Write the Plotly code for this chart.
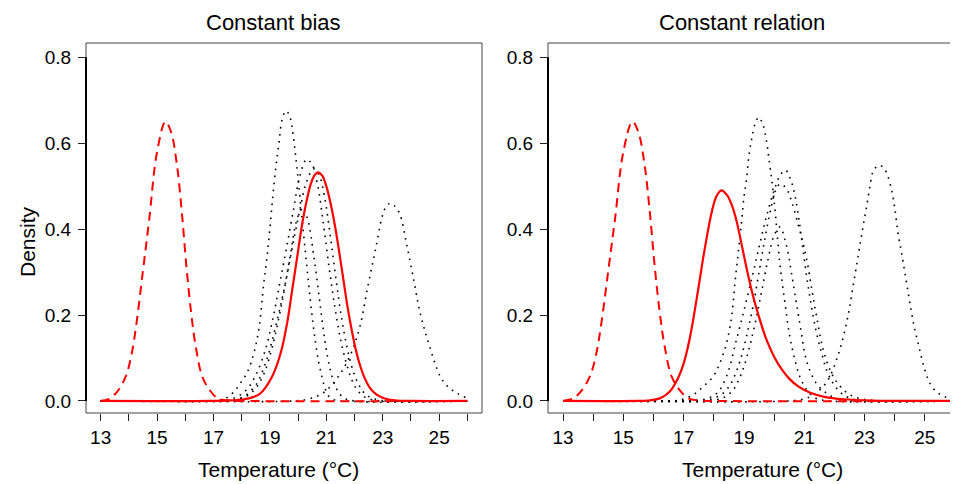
import plotly.graph_objects as go

# ---------------- data ----------------
x_ticks = list(range(13, 27))
x_tick_labels = [str(v) if v % 2 == 1 else "" for v in x_ticks]
y_ticks = [0.0, 0.2, 0.4, 0.6, 0.8]
y_tick_labels = ["0.0", "0.2", "0.4", "0.6", "0.8"]

panel_titles = ["Constant bias", "Constant relation"]
x_title = "Temperature (\u00b0C)"
y_title = "Density"

# observed distribution (red dashed), same in both panels
obs_x = [13.0, 13.3, 13.59, 13.89, 14.1, 14.27, 14.49, 14.72, 15.0, 15.3, 15.5, 15.71,
         15.88, 16.04, 16.21, 16.37, 16.6, 16.87, 17.15, 17.5, 18.0, 26.0]
obs_y = [0.0, 0.005, 0.022, 0.057, 0.11, 0.181, 0.298, 0.422, 0.58, 0.65, 0.625, 0.546,
         0.437, 0.313, 0.204, 0.127, 0.057, 0.025, 0.006, 0.001, 0.0, 0.0]

# ---- left panel: constant bias ----
lp_x = [13.0, 17.0, 17.5, 18.08, 18.4, 18.67, 19.08, 19.38, 19.61, 19.79, 19.97, 20.14,
        20.3, 20.45, 20.58, 20.7, 20.85, 21.0, 21.15, 21.3, 21.45, 21.6, 21.75, 21.9, 22.05,
        22.2, 22.35, 22.55, 22.8, 23.1, 23.5, 24.0, 26.0]
lp_y = [0.0, 0.0, 0.001, 0.004, 0.009, 0.018, 0.057, 0.111, 0.181, 0.258, 0.336, 0.41,
        0.465, 0.505, 0.525, 0.532, 0.525, 0.5, 0.46, 0.41, 0.35, 0.285, 0.22, 0.165, 0.118,
        0.082, 0.055, 0.03, 0.014, 0.005, 0.001, 0.0, 0.0]

la_x = [13.0, 16.8, 17.2, 17.45, 17.72, 17.96, 18.2, 18.43, 18.61, 18.78, 18.9, 18.99,
        19.09, 19.21, 19.32, 19.44, 19.57, 19.69, 19.8, 19.93, 20.05, 20.15, 20.26, 20.38,
        20.5, 20.62, 20.73, 20.85, 20.95, 21.1, 21.3, 21.5, 26.0]
la_y = [0.0, 0.0, 0.002, 0.007, 0.021, 0.042, 0.067, 0.111, 0.168, 0.272, 0.336, 0.395,
        0.467, 0.543, 0.6, 0.657, 0.675, 0.665, 0.63, 0.56, 0.485, 0.417, 0.345, 0.268,
        0.195, 0.135, 0.09, 0.055, 0.03, 0.01, 0.002, 0.0, 0.0]

lb_x = [13.0, 17.0, 17.3, 17.6, 17.9, 18.2, 18.5, 18.84, 19.1, 19.35, 19.6, 19.85, 20.05,
        20.3, 20.5, 20.7, 20.9, 21.1, 21.3, 21.5, 21.7, 21.9, 22.1, 22.4, 22.8, 23.2, 26.0]
lb_y = [0.0, 0.0, 0.001, 0.004, 0.012, 0.028, 0.06, 0.119, 0.19, 0.274, 0.36, 0.45, 0.52,
        0.562, 0.55, 0.5, 0.41, 0.31, 0.22, 0.145, 0.09, 0.05, 0.025, 0.008, 0.001, 0.0, 0.0]

lc_x = [13.0, 17.3, 17.6, 17.9, 18.2, 18.55, 18.8, 19.02, 19.3, 19.55, 19.8, 20.05, 20.3,
        20.55, 20.75, 20.95, 21.15, 21.35, 21.55, 21.75, 21.95, 22.15, 22.4, 22.8, 23.2, 26.0]
lc_y = [0.0, 0.0, 0.001, 0.005, 0.016, 0.042, 0.08, 0.125, 0.2, 0.274, 0.36, 0.44, 0.51,
        0.54, 0.525, 0.47, 0.38, 0.28, 0.19, 0.12, 0.07, 0.038, 0.015, 0.003, 0.0, 0.0]

ld_x = [13.0, 17.4, 17.8, 18.2, 18.5, 18.8, 19.1, 19.4, 19.7, 19.95, 20.15, 20.35, 20.55,
        20.75, 20.95, 21.15, 21.35, 21.6, 22.0, 26.0]
ld_y = [0.0, 0.0, 0.002, 0.012, 0.03, 0.065, 0.13, 0.22, 0.33, 0.42, 0.45, 0.42, 0.34,
        0.24, 0.14, 0.07, 0.03, 0.008, 0.0, 0.0]

le_x = [13.0, 19.8, 20.32, 20.7, 21.03, 21.5, 21.88, 22.19, 22.47, 22.74, 22.98, 23.1,
        23.25, 23.4, 23.6, 23.84, 24.1, 24.33, 24.63, 25.04, 25.3, 25.63, 26.0]
le_y = [0.0, 0.0, 0.004, 0.012, 0.026, 0.064, 0.111, 0.173, 0.266, 0.351, 0.429, 0.45,
        0.46, 0.455, 0.436, 0.367, 0.281, 0.204, 0.134, 0.057, 0.034, 0.018, 0.006]

# ---- right panel: constant relation ----
rp_x = [13.0, 15.5, 15.8, 16.21, 16.54, 16.82, 16.99, 17.2, 17.43, 17.64, 17.78, 17.92,
        18.08, 18.25, 18.45, 18.6, 18.75, 18.92, 19.1, 19.3, 19.5, 19.75, 20.0, 20.25, 20.5,
        20.8, 21.2, 21.7, 22.3, 23.3, 24.5, 26.0]
rp_y = [0.0, 0.0, 0.001, 0.006, 0.022, 0.054, 0.085, 0.145, 0.237, 0.33, 0.386, 0.436,
        0.475, 0.49, 0.478, 0.455, 0.42, 0.365, 0.305, 0.245, 0.195, 0.142, 0.103, 0.074,
        0.052, 0.034, 0.019, 0.009, 0.004, 0.001, 0.0, 0.0]

ra_x = [13.0, 16.5, 16.87, 17.31, 17.64, 17.98, 18.2, 18.42, 18.59, 18.7, 18.81, 18.92,
        19.0, 19.08, 19.16, 19.25, 19.37, 19.49, 19.63, 19.75, 19.82, 19.93, 20.05, 20.19,
        20.36, 20.52, 20.69, 20.85, 21.08, 21.3, 21.6, 26.0]
ra_y = [0.0, 0.0, 0.002, 0.014, 0.033, 0.057, 0.088, 0.134, 0.196, 0.274, 0.345, 0.416,
        0.475, 0.513, 0.568, 0.607, 0.645, 0.66, 0.643, 0.604, 0.568, 0.51, 0.43, 0.321,
        0.228, 0.15, 0.096, 0.057, 0.026, 0.01, 0.002, 0.0]

rb_x = [13.0, 16.8, 17.2, 17.7, 18.1, 18.42, 18.75, 19.03, 19.3, 19.53, 19.75, 20.0, 20.2,
        20.38, 20.55, 20.7, 20.85, 20.96, 21.1, 21.3, 21.45, 21.6, 21.75, 21.96, 22.2, 22.5,
        22.9, 23.4, 26.0]
rb_y = [0.0, 0.0, 0.001, 0.004, 0.018, 0.057, 0.142, 0.219, 0.297, 0.367, 0.43, 0.49, 0.525,
        0.537, 0.515, 0.475, 0.41, 0.352, 0.28, 0.196, 0.145, 0.105, 0.07, 0.041, 0.02, 0.007,
        0.001, 0.0, 0.0]

rc_x = [13.0, 17.1, 17.5, 17.9, 18.25, 18.5, 18.7, 18.9, 19.1, 19.3, 19.5, 19.7, 19.9, 20.05,
        20.2, 20.4, 20.6, 20.8, 20.95, 21.08, 21.25, 21.41, 21.63, 21.9, 22.18, 22.5, 22.9,
        23.4, 24.0, 26.0]
rc_y = [0.0, 0.0, 0.001, 0.004, 0.015, 0.033, 0.06, 0.1, 0.155, 0.22, 0.3, 0.38, 0.45, 0.49,
        0.505, 0.495, 0.46, 0.41, 0.37, 0.33, 0.26, 0.196, 0.119, 0.065, 0.035, 0.015, 0.005,
        0.001, 0.0, 0.0]

rd_x = [13.0, 17.5, 17.9, 18.3, 18.6, 18.8, 19.0, 19.2, 19.4, 19.6, 19.8, 20.0, 20.2, 20.36,
        20.47, 20.58, 20.69, 20.8, 20.91, 21.02, 21.18, 21.4, 21.74, 22.1, 22.6, 26.0]
rd_y = [0.0, 0.0, 0.001, 0.007, 0.022, 0.045, 0.08, 0.13, 0.19, 0.26, 0.33, 0.385, 0.405,
        0.375, 0.343, 0.296, 0.249, 0.202, 0.156, 0.109, 0.072, 0.041, 0.018, 0.005, 0.0, 0.0]

re_x = [13.0, 20.5, 20.96, 21.3, 21.63, 21.85, 22.07, 22.24, 22.4, 22.51, 22.62, 22.73, 22.84,
        22.95, 23.07, 23.18, 23.29, 23.47, 23.6, 23.73, 23.9, 24.0, 24.11, 24.23, 24.34, 24.45,
        24.56, 24.67, 24.83, 25.0, 25.17, 25.39, 25.66, 25.94, 26.0]
re_y = [0.0, 0.0, 0.004, 0.014, 0.034, 0.057, 0.096, 0.134, 0.181, 0.22, 0.267, 0.313, 0.36,
        0.406, 0.453, 0.5, 0.535, 0.548, 0.545, 0.531, 0.49, 0.45, 0.391, 0.344, 0.298, 0.251,
        0.205, 0.166, 0.119, 0.072, 0.041, 0.021, 0.01, 0.004, 0.003]

# ---------------- styling ----------------
FONT = "Liberation Sans, Arial, Helvetica, sans-serif"
dot_line = dict(color="black", width=1.6, dash="1.6px,5.4px", shape="spline", smoothing=1.0)
obs_line = dict(color="#ff0000", width=2, dash="9px,6px", shape="spline", smoothing=1.0)
proj_line = dict(color="#ff0000", width=2.2, shape="spline", smoothing=1.0)

fig = go.Figure()

panels = [
    ("x", "y", [(la_x, la_y), (lb_x, lb_y), (lc_x, lc_y), (ld_x, ld_y), (le_x, le_y)], (lp_x, lp_y)),
    ("x2", "y2", [(ra_x, ra_y), (rb_x, rb_y), (rc_x, rc_y), (rd_x, rd_y), (re_x, re_y)], (rp_x, rp_y)),
]
for xa, ya, models, proj in panels:
    for mx, my in models:
        fig.add_trace(go.Scatter(x=mx, y=my, mode="lines", line=dot_line, xaxis=xa, yaxis=ya,
                                 hoverinfo="skip"))
    fig.add_trace(go.Scatter(x=obs_x, y=obs_y, mode="lines", line=obs_line, xaxis=xa, yaxis=ya,
                             hoverinfo="skip"))
    fig.add_trace(go.Scatter(x=proj[0], y=proj[1], mode="lines", line=proj_line, xaxis=xa,
                             yaxis=ya, hoverinfo="skip"))

# the page adds an 8 px body margin, so page pixel p -> figure pixel p - 8
OFF = 8
W, H = 958 - OFF, 484 - OFF


def fx(p):
    return (p - OFF) / W


def fy(p):
    return 1 - (p - OFF) / H


ydom = [fy(413), fy(43)]
common_x = dict(tickvals=x_ticks, ticktext=x_tick_labels, ticks="outside", ticklen=7,
                tickwidth=1, tickcolor="#222", showgrid=False, zeroline=False, showline=False,
                tickfont=dict(size=19, family=FONT, color="black"))
common_y = dict(tickvals=y_ticks, ticktext=y_tick_labels, ticks="outside", ticklen=7,
                tickwidth=1, tickcolor="#222", showgrid=False, zeroline=False, showline=False,
                range=[-0.028, 0.833], domain=ydom, ticklabelstandoff=3,
                tickfont=dict(size=19, family=FONT, color="black"))

fig.update_layout(
    width=W, height=H, margin=dict(l=0, r=0, t=0, b=0),
    paper_bgcolor="white", plot_bgcolor="white", showlegend=False,
    font=dict(family=FONT, color="black"),
    xaxis=dict(domain=[fx(86), fx(482)], range=[12.48, 26.52], anchor="y", **common_x),
    yaxis=dict(anchor="x", **common_y),
    xaxis2=dict(domain=[fx(548), 1.0], range=[12.5, 26.1], anchor="y2", **common_x),
    yaxis2=dict(anchor="x2", **common_y),
)

box = dict(color="#444", width=1)
shapes = [
    dict(type="rect", xref="x domain", yref="y domain", x0=0, x1=1, y0=0, y1=1, line=box),
    dict(type="line", xref="x2 domain", yref="y2 domain", x0=0, x1=1, y0=1, y1=1, line=box),
    dict(type="line", xref="x2 domain", yref="y2 domain", x0=0, x1=0, y0=0, y1=1, line=box),
    dict(type="line", xref="x2 domain", yref="y2 domain", x0=0, x1=1, y0=0, y1=0, line=box),
    dict(type="line", xref="x domain", yref="y", x0=0, x1=0, y0=0, y1=0.8,
         line=dict(color="black", width=2)),
    dict(type="line", xref="x2 domain", yref="y2", x0=0, x1=0, y0=0, y1=0.8,
         line=dict(color="black", width=2)),
]
fig.update_layout(shapes=shapes)

centers = [fx(273), fx(742)]
label_centers = [fx(278), fx(762)]
ann = []
for cx, lx, t in zip(centers, label_centers, panel_titles):
    ann.append(dict(text=t, x=cx, y=fy(22), xref="paper", yref="paper", showarrow=False,
                    xanchor="center", yanchor="middle", font=dict(size=22, family=FONT)))
    ann.append(dict(text=x_title, x=lx, y=fy(469), xref="paper", yref="paper",
                    showarrow=False, xanchor="center", yanchor="middle",
                    font=dict(size=21, family=FONT)))
ann.append(dict(text=y_title, x=fx(27), y=fy(242), xref="paper", yref="paper",
                showarrow=False, textangle=-90, xanchor="center", yanchor="middle",
                font=dict(size=21, family=FONT)))
fig.update_layout(annotations=ann)

fig.write_html("out.html")
